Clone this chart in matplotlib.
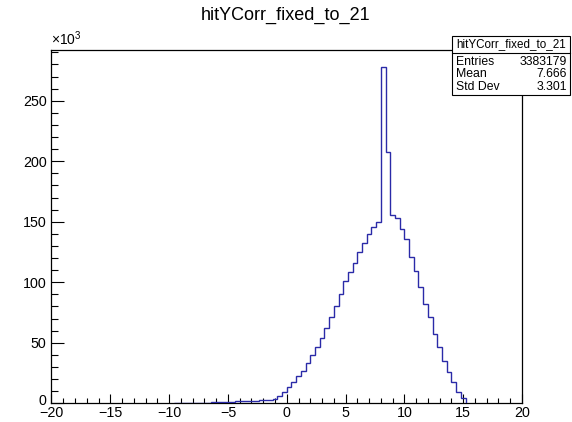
import matplotlib.pyplot as plt
import matplotlib.transforms as mtransforms
from matplotlib.patches import Rectangle
from matplotlib.ticker import MultipleLocator
import numpy as np

plt.rcParams['font.family'] = ['Liberation Sans', 'DejaVu Sans']
plt.rcParams['mathtext.fontset'] = 'custom'
plt.rcParams['mathtext.rm'] = 'Liberation Sans'

# histogram: 100 bins from -20 to 20 (width 0.4); counts in thousands
hist_name = 'hitYCorr_fixed_to_21'
x_range = (-20, 20)
n_bins = 100
first_bin_lo = -9.6  # lower edge of the first non-empty bin
counts_k = [
    0.4, 0.4, 0.4, 0.5, 0.5, 0.5, 0.6, 0.6,            # -9.6 .. -6.8
    0.9, 0.9, 1.0, 1.0, 1.1,                           # -6.4 .. -4.8
    1.7, 1.8, 1.9, 2.0, 2.1,                           # -4.4 .. -2.8
    2.6, 2.7, 2.9, 3.8,                                # -2.4 .. -1.2
    6.3, 9.6, 13.2, 17.9, 22.6, 27.0, 33.0, 39.7,      # -0.8 .. 2.0
    46.3, 53.7, 62.2, 71.0, 80.4, 90.3, 101.0, 108.5,  # 2.4 .. 5.2
    116.2, 125.0, 132.7, 139.6, 145.4, 150.0,          # 5.6 .. 7.6
    278.0, 207.6,                                      # 8.0, 8.4
    155.6, 152.8, 143.8, 135.5, 120.6, 109.6, 95.8,    # 8.8 .. 11.2
    82.0, 71.0, 57.3, 46.3, 35.2, 25.6, 17.4, 9.6, 4.1 # 11.6 .. 14.8
]
stat_labels = ['Entries', 'Mean', 'Std Dev']
stat_values = ['3383179', '7.666', '3.301']

edges = np.linspace(x_range[0], x_range[1], n_bins + 1)
start = int(round((first_bin_lo - x_range[0]) * n_bins / (x_range[1] - x_range[0])))
sub_edges = edges[start:start + len(counts_k) + 1]

fig = plt.figure(figsize=(5.72, 4.22), dpi=100)
ax = fig.add_axes([0.090, 0.0443, 0.8226, 0.8372])

# only the filled range is drawn, on top of the frame like ROOT does
ax.stairs(counts_k, sub_edges, baseline=0, color='#2a2aa8', linewidth=1.0,
          zorder=3)

ax.set_xlim(*x_range)
ax.set_ylim(0, max(counts_k) * 1.05)

ax.xaxis.set_major_locator(MultipleLocator(5))
ax.xaxis.set_minor_locator(MultipleLocator(1))
ax.yaxis.set_major_locator(MultipleLocator(50))
ax.yaxis.set_minor_locator(MultipleLocator(10))
ax.tick_params(axis='x', which='major', direction='in', length=6.5, width=0.8,
               labelsize=10.3, pad=2.2)
ax.tick_params(axis='x', which='minor', direction='in', length=3.3, width=0.8)
ax.tick_params(axis='y', which='major', direction='in', length=9.5, width=0.8,
               labelsize=10.3, pad=3.5)
ax.tick_params(axis='y', which='minor', direction='in', length=4.8, width=0.8)
for sp in ax.spines.values():
    sp.set_linewidth(0.9)

# lift the y "0" a touch so it does not sit on top of "-20"
fig.canvas.draw()
for tick in ax.yaxis.get_major_ticks():
    if abs(tick.get_loc()) < 1e-9:
        tick.label1.set_transform(tick.label1.get_transform() +
                                  mtransforms.ScaledTranslation(0, 2.5 / 72,
                                                                fig.dpi_scale_trans))

fig.text(0.5, 0.963, hist_name, ha='center', va='center', fontsize=13)
fig.text(0.089, 0.886, r'$\mathregular{\times10^{3}}$', ha='left', va='bottom',
         fontsize=10)

# stat box
box_x0, box_x1 = 0.790, 0.9965
box_y0, box_y1 = 0.7749, 0.9154
div_y = 0.8737
fig.add_artist(Rectangle((box_x0, box_y0), box_x1 - box_x0, box_y1 - box_y0,
                         transform=fig.transFigure, facecolor='white',
                         edgecolor='black', linewidth=0.8, zorder=5))
fig.add_artist(plt.Line2D([box_x0, box_x1], [div_y, div_y], transform=fig.transFigure,
                          color='black', linewidth=0.8, zorder=6))
fig.text((box_x0 + box_x1) / 2, 0.895, hist_name, ha='center', va='center',
         fontsize=8.4, zorder=7)
row_y = [0.8524, 0.824, 0.7938]
for lab, val, y in zip(stat_labels, stat_values, row_y):
    fig.text(0.798, y, lab, ha='left', va='center', fontsize=8.8, zorder=7)
    fig.text(0.991, y, val, ha='right', va='center', fontsize=8.8, zorder=7)

fig.savefig('out.png', dpi=100)
